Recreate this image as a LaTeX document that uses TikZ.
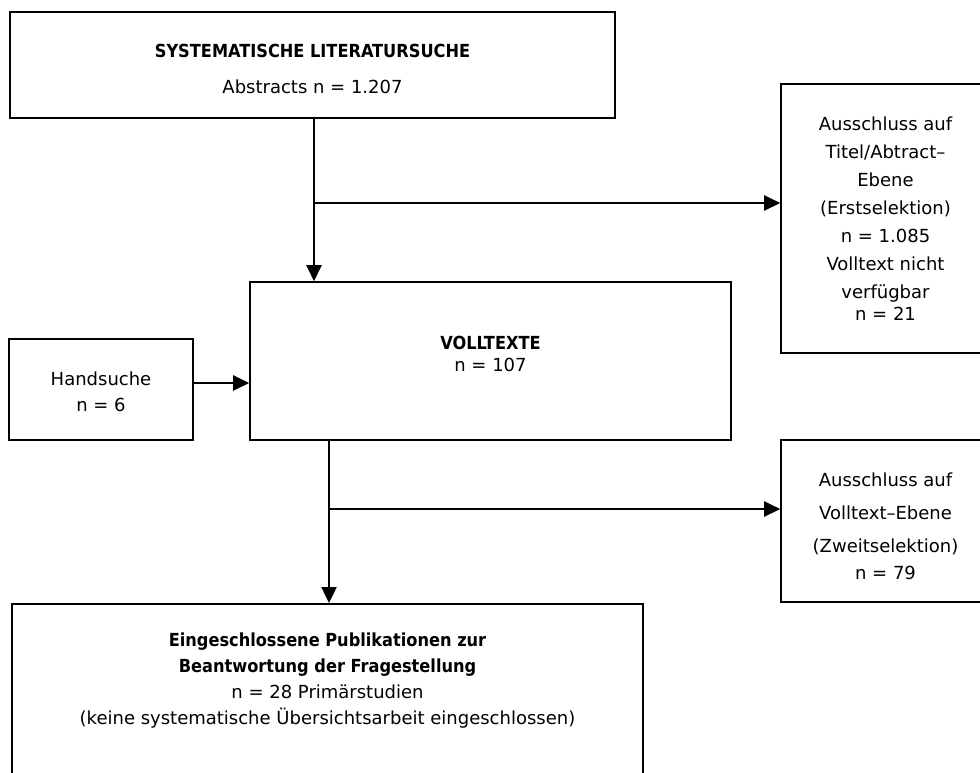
\documentclass[tikz,border=0pt]{standalone}
\usepackage{fontspec}
\setmainfont{DejaVu Sans}[BoldFont={DejaVu Sans Condensed Bold}]
\usetikzlibrary{arrows.meta}

\begin{document}
\begin{tikzpicture}[x=1pt, y=-1pt, font=\fontsize{18}{28}\selectfont,
  box/.style={draw, line width=1.6pt, inner sep=0pt, align=center},
  arr/.style={line width=2.4pt, -{Triangle[length=16pt,width=15pt]}}]
  \useasboundingbox (0,0) rectangle (980,772);
  \clip (0,0) rectangle (980,772);
  \node[box, minimum width=605, minimum height=106] (search) at (312.5,65)
    {\rule{0pt}{22pt}\textbf{SYSTEMATISCHE LITERATURSUCHE}\\[8pt]Abstracts n = 1.207};
  \node[box, minimum width=209, minimum height=269] (excl1) at (885.5,218.5)
    {Ausschluss auf\\Titel/Abtract--\\Ebene\\(Erstselektion)\\n = 1.085\\Volltext nicht\\verfügbar\\[-6pt]n = 21};
  \node[box, minimum width=481, minimum height=158] (vt) at (490.5,361)
    {\textbf{VOLLTEXTE}\\[-6pt]n = 107\rule[-14pt]{0pt}{0pt}};
  \node[box, minimum width=184, minimum height=101] (hand) at (101,389.5)
    {\rule{0pt}{18pt}Handsuche\\[-2pt]n = 6};
  \node[box, minimum width=209, minimum height=162] (excl2) at (885.5,521)
    {\rule{0pt}{24pt}Ausschluss auf\\[5pt]Volltext--Ebene\\[5pt](Zweitselektion)\\[-1pt]n = 79};
  \node[box, minimum width=631, minimum height=200, anchor=north] (incl) at (327.5,603) {};
  \node[align=center] (incltext) at (327.5,681)
    {\textbf{Eingeschlossene Publikationen zur}\\[-2pt]\textbf{Beantwortung der Fragestellung}\\[-2pt]n = 28 Primärstudien\\[-2pt](keine systematische Übersichtsarbeit eingeschlossen)};
  \coordinate (fork1) at (314,203);
  \coordinate (fork2) at (329,509);
  \draw[arr] (search.south -| 314,0) -- (vt.north -| 314,0);
  \draw[arr] (fork1) -- (fork1 -| excl1.west);
  \draw[arr] (hand.east |- 0,383) -- (vt.west |- 0,383);
  \draw[arr] (vt.south -| 329,0) -- (incl.north -| 329,0);
  \draw[arr] (fork2) -- (fork2 -| excl2.west);
\end{tikzpicture}
\end{document}
